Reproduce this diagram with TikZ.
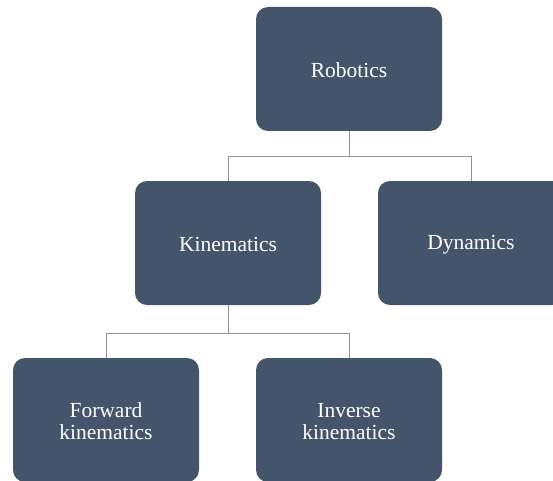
\documentclass[tikz,border=0pt]{standalone}
\usepackage{fontspec}
\setmainfont{Liberation Serif}
\definecolor{boxblue}{HTML}{44546A}
\definecolor{linegray}{HTML}{8A939E}
\begin{document}
\begin{tikzpicture}[x=1pt,y=1pt,
  box/.style={fill=boxblue, rounded corners=12pt, minimum width=186pt, minimum height=124pt, inner sep=0pt},
  lbl/.style={text=white, align=center, font=\fontsize{21.5}{22}\selectfont, yshift=-1.5pt},
  conn/.style={draw=linegray, line width=1pt}]
\useasboundingbox (0,0) rectangle (553,480);
\clip (0,0) rectangle (553,480);
\node[box, label={[lbl]center:Robotics}] (rob) at (349,411) {};
\node[box, label={[lbl]center:Kinematics}] (kin) at (228,237) {};
\node[box, label={[lbl]center:Dynamics}] (dyn) at (471,237) {};
\node[box, label={[lbl]center:Forward\\kinematics}] (fwd) at (106,60) {};
\node[box, label={[lbl]center:Inverse\\kinematics}] (inv) at (349,60) {};
\draw[conn] (rob.south) -- ++(0,-25) -| (kin.north);
\draw[conn] (rob.south) -- ++(0,-25) -| (dyn.north);
\draw[conn] (kin.south) -- ++(0,-28) -| (fwd.north);
\draw[conn] (kin.south) -- ++(0,-28) -| (inv.north);
\end{tikzpicture}
\end{document}
